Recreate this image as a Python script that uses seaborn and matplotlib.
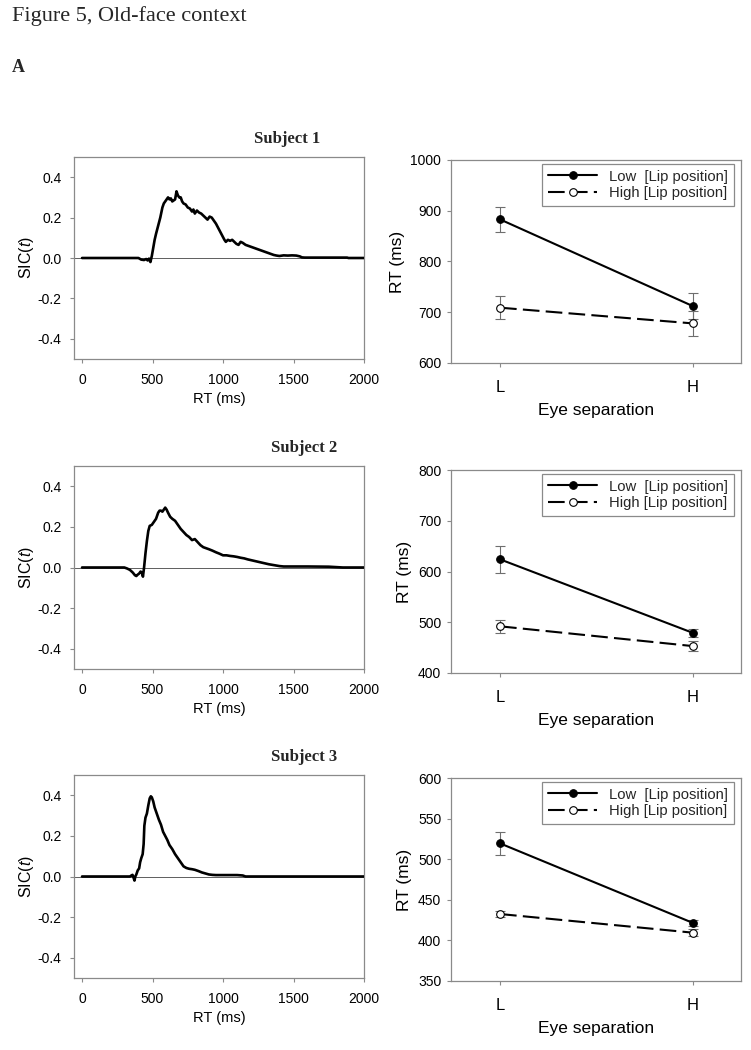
import numpy as np
import pandas as pd
import matplotlib
matplotlib.use('Agg')
import matplotlib.pyplot as plt
import seaborn as sns

sns.set_theme(style='white')
plt.rcParams['font.family'] = ['Liberation Sans', 'DejaVu Sans']
plt.rcParams['mathtext.fontset'] = 'custom'
plt.rcParams['mathtext.rm'] = 'Liberation Sans'
plt.rcParams['mathtext.it'] = 'Liberation Sans:italic'
plt.rcParams['axes.unicode_minus'] = False

# ---------------- data ----------------
subjects = ['Subject 1', 'Subject 2', 'Subject 3']

s1_t = [0, 400, 420, 440, 455, 465, 475, 485, 495, 505, 515, 525, 540, 555, 570, 580, 590, 600,
        610, 620, 630, 640, 650, 660, 670, 680, 690, 700, 710, 720, 735, 750, 765, 780, 790, 800,
        815, 830, 845, 860, 875, 890, 905, 920, 935, 950, 965, 980, 995, 1010, 1020, 1035, 1050,
        1065, 1080, 1095, 1110, 1125, 1140, 1160, 1180, 1200, 1220, 1240, 1260, 1280, 1300, 1320,
        1340, 1360, 1380, 1400, 1430, 1460, 1490, 1520, 1545, 1560, 1580, 1880, 1890, 2000]
s1_sic = [0, 0, -0.008, -0.01, -0.005, -0.012, -0.003, -0.02, 0.01, 0.05, 0.09, 0.12, 0.16, 0.20,
          0.25, 0.27, 0.28, 0.29, 0.30, 0.29, 0.295, 0.28, 0.285, 0.29, 0.33, 0.31, 0.30, 0.30, 0.28,
          0.27, 0.265, 0.25, 0.245, 0.23, 0.24, 0.22, 0.235, 0.225, 0.22, 0.21, 0.20, 0.19, 0.205,
          0.20, 0.185, 0.17, 0.15, 0.13, 0.11, 0.09, 0.08, 0.09, 0.085, 0.09, 0.08, 0.07, 0.065, 0.08,
          0.075, 0.065, 0.06, 0.055, 0.05, 0.045, 0.04, 0.035, 0.03, 0.025, 0.02, 0.015, 0.012, 0.01,
          0.013, 0.012, 0.013, 0.012, 0.008, 0.003, 0.002, 0.002, 0.0, 0.0]

s2_t = [0, 300, 320, 340, 360, 375, 385, 395, 405, 415, 425, 432, 440, 450, 460, 470, 480, 495,
        510, 525, 540, 550, 560, 570, 580, 590, 600, 610, 625, 640, 660, 680, 700, 720, 740, 760,
        780, 800, 820, 840, 860, 880, 900, 925, 950, 975, 1000, 1025, 1050, 1075, 1100, 1125, 1150,
        1175, 1200, 1225, 1250, 1275, 1300, 1325, 1350, 1375, 1400, 1430, 1600, 1750, 1800, 1850, 2000]
s2_sic = [0, 0, -0.005, -0.012, -0.025, -0.038, -0.042, -0.035, -0.03, -0.02, -0.025, -0.045, 0.0,
          0.07, 0.13, 0.18, 0.205, 0.21, 0.225, 0.24, 0.27, 0.28, 0.28, 0.275, 0.285, 0.295, 0.285,
          0.27, 0.25, 0.24, 0.23, 0.21, 0.19, 0.175, 0.16, 0.15, 0.135, 0.14, 0.125, 0.11, 0.10, 0.095,
          0.09, 0.083, 0.075, 0.068, 0.06, 0.06, 0.057, 0.055, 0.052, 0.048, 0.045, 0.04, 0.036, 0.032,
          0.028, 0.024, 0.02, 0.016, 0.013, 0.01, 0.007, 0.005, 0.005, 0.004, 0.002, 0.0, 0.0]

s3_t = [0, 340, 350, 358, 365, 372, 378, 385, 395, 405, 412, 420, 430, 437, 442, 450, 460, 470,
        480, 488, 495, 505, 515, 530, 545, 560, 575, 590, 605, 620, 640, 660, 680, 700, 720, 740,
        760, 780, 800, 825, 850, 875, 900, 925, 950, 1100, 1140, 1160, 2000]
s3_sic = [0, 0, 0.005, 0.008, -0.005, -0.02, 0.0, 0.01, 0.03, 0.04, 0.07, 0.09, 0.11, 0.16, 0.25,
          0.29, 0.31, 0.35, 0.385, 0.395, 0.39, 0.37, 0.34, 0.31, 0.28, 0.255, 0.22, 0.20, 0.18, 0.155,
          0.135, 0.11, 0.09, 0.07, 0.05, 0.042, 0.038, 0.036, 0.033, 0.027, 0.02, 0.015, 0.01, 0.008,
          0.007, 0.007, 0.005, 0.0, 0.0]

eye_sep = ['L', 'H']
lip_labels = ['Low  [Lip position]', 'High [Lip position]']

s1_low, s1_low_err = [883, 712], [25, 25]
s1_high, s1_high_err = [709, 678], [23, 24]
s2_low, s2_low_err = [624, 479], [27, 8]
s2_high, s2_high_err = [492, 453], [13, 10]
s3_low, s3_low_err = [519.5, 421.5], [14, 3.5]
s3_high, s3_high_err = [432.5, 409.5], [4, 4]

rt_ylims = [(600, 1000), (400, 800), (350, 600)]
rt_steps = [100, 100, 50]

sic_t = [s1_t, s2_t, s3_t]
sic_v = [s1_sic, s2_sic, s3_sic]
lows = [(s1_low, s1_low_err), (s2_low, s2_low_err), (s3_low, s3_low_err)]
highs = [(s1_high, s1_high_err), (s2_high, s2_high_err), (s3_high, s3_high_err)]

# ---------------- layout (pixels) ----------------
W, H = 751, 1050
fig = plt.figure(figsize=(W / 100, H / 100), dpi=100)
fig.patch.set_facecolor('white')

def px_axes(x0, y0, x1, y1):
    return fig.add_axes([x0 / W, 1 - y1 / H, (x1 - x0) / W, (y1 - y0) / H])

left_boxes = [(74, 157, 364, 359), (74, 466, 364, 669), (74, 775, 364, 978)]
right_boxes = [(451, 160, 741, 363), (451, 470, 741, 673), (451, 778, 741, 981)]
title_pos = [(287, 143), (304, 452), (304, 761)]

GRAY = '#8a8a8a'

def style_axes(ax):
    for sp in ax.spines.values():
        sp.set_visible(True)
        sp.set_color(GRAY)
        sp.set_linewidth(0.9)
    ax.set_facecolor('white')
    ax.grid(False)

for i in range(3):
    # ---- SIC panel ----
    ax = px_axes(*left_boxes[i])
    style_axes(ax)
    ax.axhline(0, color='#444444', lw=0.6, zorder=1)
    df = pd.DataFrame({'t': sic_t[i], 'sic': sic_v[i]})
    sns.lineplot(data=df, x='t', y='sic', ax=ax, color='black', lw=1.9,
                 estimator=None, sort=False, legend=False, zorder=3)
    ax.set_xlim(-57, 2000)
    ax.set_ylim(-0.5, 0.5)
    ax.set_xticks([0, 500, 1000, 1500, 2000])
    ax.set_yticks([-0.4, -0.2, 0.0, 0.2, 0.4])
    ax.set_yticklabels(['-0.4', '-0.2', '0.0', '0.2', '0.4'])
    ax.tick_params(axis='both', which='both', direction='out', length=3, width=0.8,
                   color=GRAY, labelsize=10, labelcolor='black', bottom=True, left=True)
    ax.tick_params(axis='x', pad=7)
    ax.tick_params(axis='y', pad=6)
    ax.set_xlabel('RT (ms)', fontsize=10.5, labelpad=4, color='black')
    ax.set_ylabel('SIC($\\mathit{t}$)', fontsize=11.5, labelpad=1, color='black')

    fig.text(title_pos[i][0] / W, 1 - title_pos[i][1] / H, subjects[i],
             family='Liberation Serif', fontweight='bold', fontsize=12,
             ha='center', va='baseline')

    # ---- RT panel ----
    ax2 = px_axes(*right_boxes[i])
    style_axes(ax2)
    xs = [0, 1]
    (lo, lo_e), (hi, hi_e) = lows[i], highs[i]
    ax2.errorbar(xs, lo, yerr=lo_e, fmt='none', ecolor='#6e6e6e', elinewidth=0.8,
                 capsize=3.5, capthick=0.8, zorder=2)
    ax2.errorbar(xs, hi, yerr=hi_e, fmt='none', ecolor='#6e6e6e', elinewidth=0.8,
                 capsize=3.5, capthick=0.8, zorder=2)
    sns.lineplot(x=xs, y=lo, ax=ax2, color='black', lw=1.5, marker='o', markersize=5.5,
                 markerfacecolor='black', markeredgecolor='black', label=lip_labels[0], zorder=4)
    sns.lineplot(x=xs, y=hi, ax=ax2, color='black', lw=1.5, marker='o', markersize=5.5,
                 markerfacecolor='white', markeredgecolor='black', markeredgewidth=0.8,
                 linestyle=(0, (8, 3)), label=lip_labels[1], zorder=4)
    ax2.set_xlim(-0.254, 1.249)
    ax2.set_ylim(*rt_ylims[i])
    ax2.set_yticks(np.arange(rt_ylims[i][0], rt_ylims[i][1] + 1, rt_steps[i]))
    ax2.set_xticks(xs)
    ax2.set_xticklabels(eye_sep)
    ax2.tick_params(axis='both', which='both', direction='out', length=3, width=0.8,
                    color=GRAY, labelcolor='black', bottom=True, left=True)
    ax2.tick_params(axis='y', labelsize=10, pad=4)
    ax2.tick_params(axis='x', labelsize=12, pad=9)
    ax2.set_xlabel('Eye separation', fontsize=12.5, labelpad=6, color='black')
    ax2.set_ylabel('RT (ms)', fontsize=12.5, labelpad=4, color='black')
    handles, labels = ax2.get_legend_handles_labels()
    leg = ax2.legend(handles, labels, loc='upper right', bbox_to_anchor=(0.975, 0.982),
                     borderaxespad=0, frameon=True, fancybox=False, framealpha=1,
                     edgecolor=GRAY, fontsize=10.7, handlelength=3.3, handletextpad=0.8,
                     borderpad=0.4, labelspacing=0.15)
    leg.get_frame().set_linewidth(0.9)

fig.text(12 / W, 1 - 21 / H, 'Figure 5, Old-face context', family='Liberation Serif',
         fontsize=16, ha='left', va='baseline')
fig.text(12 / W, 1 - 72 / H, 'A', family='Liberation Serif', fontweight='bold',
         fontsize=13, ha='left', va='baseline')

fig.savefig('out.png', dpi=100, facecolor='white')
